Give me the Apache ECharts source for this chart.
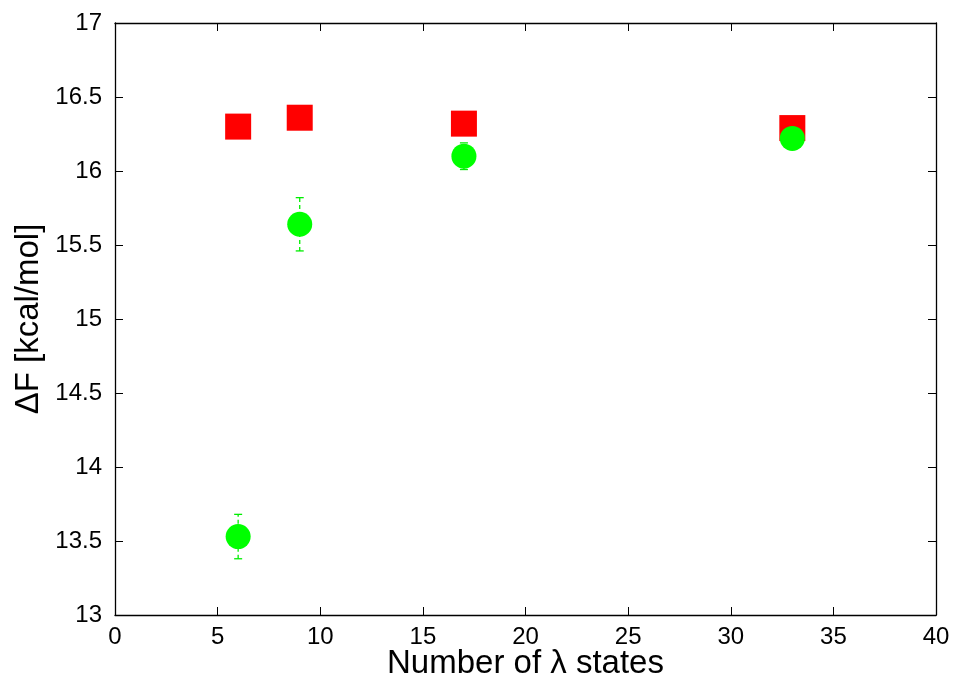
<!DOCTYPE html>
<html><head><meta charset="utf-8">
<script src="https://cdn.jsdelivr.net/npm/echarts@6/dist/echarts.min.js"></script>
<style>html,body{margin:0;padding:0;background:#fff}#c{width:958px;height:677px}</style>
</head><body><div id="c"></div>
<script>
const xTicks = [0, 5, 10, 15, 20, 25, 30, 35, 40];
const yTicks = [13, 13.5, 14, 14.5, 15, 15.5, 16, 16.5, 17];
const lambdaStates = [6, 9, 17, 33];
const squareValues = [16.30, 16.36, 16.32, 16.29];
const circleValues = [13.53, 15.64, 16.10, 16.22];
const circleErrLow = [13.38, 15.46, 16.01, 16.21];
const circleErrHigh = [13.68, 15.82, 16.19, 16.23];

const font = 'Liberation Sans, Arial, Helvetica, sans-serif';
const chart = echarts.init(document.getElementById('c'), null, {renderer: 'canvas'});

function mkAxis(extra) {
  return Object.assign({
    axisLine: {show: true, onZero: false, lineStyle: {color: '#000', width: 1.3}},
    axisTick: {show: true, inside: true, length: 8, lineStyle: {color: '#000', width: 1}},
    splitLine: {show: false}
  }, extra);
}

chart.setOption({
  animation: false,
  backgroundColor: '#fff',
  grid: {left: 115, right: 22, top: 23, bottom: 62, containLabel: false, outerBoundsMode: 'none'},
  xAxis: [
    mkAxis({type: 'value', min: 0, max: 40, interval: 5, position: 'bottom',
      name: 'Number of λ states', nameLocation: 'middle', nameGap: 32, nameMoveOverlap: false,
      nameTextStyle: {fontFamily: font, fontSize: 33, color: '#000'},
      axisLabel: {fontFamily: font, fontSize: 24, color: '#000', margin: 10,
        formatter: v => xTicks.includes(v) ? String(v) : ''}}),
    mkAxis({type: 'value', min: 0, max: 40, interval: 5, position: 'top',
      axisLabel: {show: false}})
  ],
  yAxis: [
    mkAxis({type: 'value', min: 13, max: 17, interval: 0.5, position: 'left',
      name: 'ΔF [kcal/mol]', nameLocation: 'middle', nameGap: 70, nameRotate: 90, nameMoveOverlap: false,
      nameTextStyle: {fontFamily: font, fontSize: 33, color: '#000'},
      axisLabel: {fontFamily: font, fontSize: 24, color: '#000', margin: 13,
        formatter: v => yTicks.includes(v) ? String(v) : ''}}),
    mkAxis({type: 'value', min: 13, max: 17, interval: 0.5, position: 'right',
      axisLabel: {show: false}})
  ],
  series: [
    {
      type: 'scatter', symbol: 'rect', symbolSize: 26,
      itemStyle: {color: '#ff0000', opacity: 1},
      data: lambdaStates.map((x, i) => [x, squareValues[i]]), z: 2
    },
    {
      type: 'custom', z: 3,
      renderItem: function (params, api) {
        const x = api.value(0);
        const lo = api.coord([x, api.value(1)]);
        const hi = api.coord([x, api.value(2)]);
        const cw = 4;
        const c = '#00ee00';
        return {type: 'group', children: [
          {type: 'line', shape: {x1: lo[0], y1: lo[1], x2: hi[0], y2: hi[1]}, style: {stroke: c, lineWidth: 1.3, lineDash: [4, 3]}},
          {type: 'line', shape: {x1: lo[0] - cw, y1: lo[1], x2: lo[0] + cw, y2: lo[1]}, style: {stroke: c, lineWidth: 1.3}},
          {type: 'line', shape: {x1: hi[0] - cw, y1: hi[1], x2: hi[0] + cw, y2: hi[1]}, style: {stroke: c, lineWidth: 1.3}}
        ]};
      },
      data: lambdaStates.map((x, i) => [x, circleErrLow[i], circleErrHigh[i]])
    },
    {
      type: 'scatter', symbol: 'circle', symbolSize: 25,
      itemStyle: {color: '#00ff00', opacity: 1},
      data: lambdaStates.map((x, i) => [x, circleValues[i]]), z: 4
    }
  ]
});
</script></body></html>
